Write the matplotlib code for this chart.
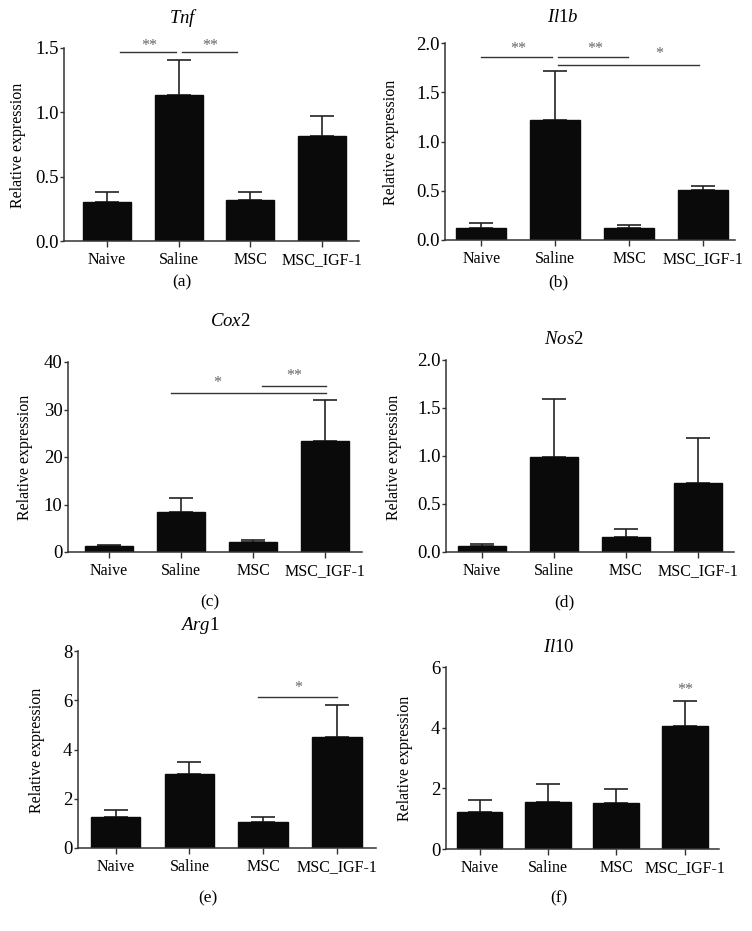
import matplotlib
matplotlib.use('Agg')
import matplotlib.pyplot as plt
import numpy as np

plt.rcParams['font.family'] = ['Liberation Serif', 'DejaVu Serif']
plt.rcParams['mathtext.fontset'] = 'custom'
plt.rcParams['mathtext.rm'] = 'Liberation Serif'
plt.rcParams['mathtext.it'] = 'Liberation Serif:italic'

groups = ['Naive', 'Saline', 'MSC', 'MSC_IGF-1']

tnf = [0.305, 1.137, 0.316, 0.813]
tnf_err = [0.073, 0.269, 0.064, 0.161]
il1b = [0.122, 1.214, 0.122, 0.512]
il1b_err = [0.048, 0.502, 0.031, 0.034]
cox2 = [1.17, 8.5, 2.1, 23.3]
cox2_err = [0.23, 2.95, 0.4, 8.7]
nos2 = [0.066, 0.993, 0.16, 0.722]
nos2_err = [0.014, 0.601, 0.08, 0.468]
arg1 = [1.26, 3.02, 1.05, 4.52]
arg1_err = [0.28, 0.48, 0.22, 1.28]
il10 = [1.235, 1.555, 1.51, 4.04]
il10_err = [0.365, 0.59, 0.48, 0.83]

titles = [r'$\mathit{Tnf}$', r'$\mathit{Il1b}$', r'$\mathit{Cox2}$',
          r'$\mathit{Nos2}$', r'$\mathit{Arg}$1', r'$\mathit{Il}$10']
letters = ['(a)', '(b)', '(c)', '(d)', '(e)', '(f)']
ymax = [1.5, 2.0, 40, 2.0, 8, 6]
ystep = [0.5, 0.5, 10, 0.5, 2, 2]

# significance: (x0, x1, line_y, star_x, star_y, text)
sig_a = [(0.18, 0.96, 1.466, 0.59, 1.515, '**'), (1.05, 1.81, 1.466, 1.44, 1.515, '**')]
sig_b = [(0.0, 0.95, 1.862, 0.5, 1.94, '**'), (1.04, 1.99, 1.862, 1.54, 1.94, '**'),
         (1.04, 2.95, 1.78, 2.4, 1.89, '*')]
sig_c = [(0.86, 3.01, 33.5, 1.5, 35.6, '*'), (2.125, 3.01, 34.9, 2.57, 37.0, '**')]
sig_d = []
sig_e = [(1.93, 3.0, 6.12, 2.47, 6.5, '*')]
sig_f = [(None, None, None, 3.0, 5.23, '**')]

values = [tnf, il1b, cox2, nos2, arg1, il10]
errors = [tnf_err, il1b_err, cox2_err, nos2_err, arg1_err, il10_err]
sigs = [sig_a, sig_b, sig_c, sig_d, sig_e, sig_f]

W, H = 752, 931
# axes boxes in pixels: left, right, top, bottom ; xlim left/right
boxes = [(64, 359, 48, 241, -0.6, 3.52),
         (445, 735, 43, 240, -0.49, 3.43),
         (68, 362, 362, 552, -0.57, 3.51),
         (446, 734, 360, 552, -0.5, 3.5),
         (78, 376, 651, 848, -0.51, 3.53),
         (446, 719, 667, 849, -0.49, 3.5)]
title_pos = [(184, 18), (563, 18), (230, 322), (564, 340), (200, 625), (559, 647)]
letter_pos = [(182, 282), (558, 282), (210, 602), (564, 602), (208, 898), (559, 898)]
ylab_pos = [(18, 145), (391, 142), (25, 457), (394, 457), (37, 750), (405, 758)]

fig = plt.figure(figsize=(W / 100, H / 100), dpi=100)

for i in range(6):
    l, r, t, b, x0, x1 = boxes[i]
    ax = fig.add_axes([l / W, 1 - b / H, (r - l) / W, (b - t) / H])
    x = np.arange(len(groups))
    ax.errorbar(x, values[i], yerr=[np.zeros(4), errors[i]], fmt='none',
                ecolor='#222222', elinewidth=1.2, capsize=8.6, capthick=1.2, zorder=1)
    ax.bar(x, values[i], width=0.67, color='#0a0a0a', edgecolor='#0a0a0a', zorder=2)
    ax.set_xlim(x0, x1)
    ax.set_ylim(0, ymax[i])
    ax.set_yticks(np.arange(0, ymax[i] + ystep[i] / 2, ystep[i]))
    if ystep[i] < 1:
        ax.set_yticklabels(['%.1f' % v for v in ax.get_yticks()])
    else:
        ax.set_yticklabels(['%d' % v for v in ax.get_yticks()])
    ax.set_xticks(x)
    ax.set_xticklabels(groups, fontsize=11.5)
    ax.tick_params(axis='y', labelsize=13.5, length=3, width=1, pad=1, color='#333333')
    ax.tick_params(axis='x', length=4, width=1, pad=4, color='#333333')
    for s in ['top', 'right']:
        ax.spines[s].set_visible(False)
    for s in ['left', 'bottom']:
        ax.spines[s].set_linewidth(1.1)
        ax.spines[s].set_color('#333333')
    for (a0, a1, ly, sx, sy, txt) in sigs[i]:
        if a0 is not None:
            ax.plot([a0, a1], [ly, ly], color='#333333', lw=1, clip_on=False)
        ax.text(sx, sy, txt, ha='center', va='center', fontsize=11.5, color='#666666')

    tx, ty = title_pos[i]
    fig.text(tx / W, 1 - ty / H, titles[i], ha='center', va='center', fontsize=13.5)
    lx, ly = letter_pos[i]
    fig.text(lx / W, 1 - ly / H, letters[i], ha='center', va='center', fontsize=12.5)
    yx, yy = ylab_pos[i]
    fig.text(yx / W, 1 - yy / H, 'Relative expression', rotation=90,
             ha='center', va='center', fontsize=11.5)

fig.savefig('out.png', dpi=100)
